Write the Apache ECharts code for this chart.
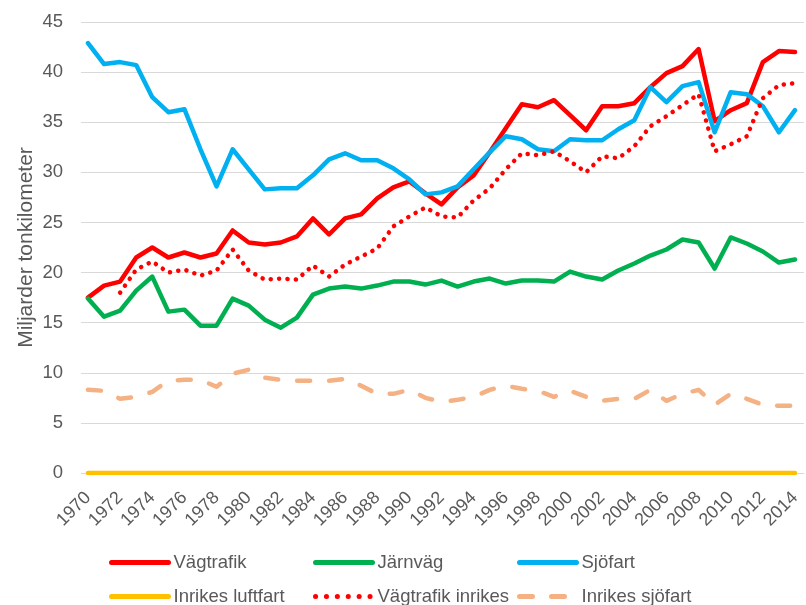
<!DOCTYPE html>
<html>
<head>
<meta charset="utf-8">
<script src="https://cdn.jsdelivr.net/npm/echarts@6/dist/echarts.min.js"></script>
<style>
  html, body { margin: 0; padding: 0; background: #fff; }
  #chart { width: 806px; height: 605px; }
</style>
</head>
<body>
<div id="chart"></div>
<script>
// år 1970-2014
const years = [];
for (let y = 1970; y <= 2014; y++) years.push(y);

// miljarder tonkilometer
const vagtrafik = [
  17.5, 18.7, 19.1, 21.5, 22.5, 21.5, 22.0, 21.5, 21.9, 24.2,
  23.0, 22.8, 23.0, 23.6, 25.4, 23.8, 25.4, 25.8, 27.4, 28.5,
  29.1, 27.9, 26.8, 28.5, 29.7, 32.0, 34.4, 36.8, 36.5, 37.2,
  35.7, 34.2, 36.6, 36.6, 36.9, 38.5, 39.9, 40.6, 42.3, 35.1,
  36.2, 36.9, 41.0, 42.1, 42.0
];
const jarnvag = [
  17.4, 15.6, 16.2, 18.2, 19.6, 16.1, 16.3, 14.7, 14.7, 17.4,
  16.7, 15.3, 14.5, 15.5, 17.8, 18.4, 18.6, 18.4, 18.7, 19.1,
  19.1, 18.8, 19.2, 18.6, 19.1, 19.4, 18.9, 19.2, 19.2, 19.1,
  20.1, 19.6, 19.3, 20.2, 20.9, 21.7, 22.3, 23.3, 23.0, 20.4,
  23.5, 22.9, 22.1, 21.0, 21.3
];
const sjofart = [
  42.9, 40.8, 41.0, 40.7, 37.5, 36.0, 36.3, 32.3, 28.6, 32.3,
  30.3, 28.3, 28.4, 28.4, 29.7, 31.3, 31.9, 31.2, 31.2, 30.4,
  29.3, 27.8, 28.0, 28.6, 30.3, 32.0, 33.6, 33.3, 32.3, 32.1,
  33.3, 33.2, 33.2, 34.3, 35.2, 38.5, 37.0, 38.6, 39.0, 34.0,
  38.0, 37.8, 36.6, 34.0, 36.2
];
const inrikesLuftfart = [
  0, 0, 0, 0, 0, 0, 0, 0, 0, 0,
  0, 0, 0, 0, 0, 0, 0, 0, 0, 0,
  0, 0, 0, 0, 0, 0, 0, 0, 0, 0,
  0, 0, 0, 0, 0, 0, 0, 0, 0, 0,
  0, 0, 0, 0, 0
];
const vagtrafikInrikes = [
  null, null, 18.0, 20.3, 21.1, 20.0, 20.3, 19.7, 20.2, 22.3,
  20.2, 19.3, 19.4, 19.3, 20.7, 19.6, 20.8, 21.6, 22.4, 24.6,
  25.6, 26.5, 25.6, 25.5, 27.2, 28.4, 30.3, 31.9, 31.7, 32.1,
  31.1, 30.0, 31.6, 31.4, 32.6, 34.6, 35.6, 36.7, 37.8, 32.1,
  32.8, 33.6, 37.4, 38.7, 38.9
];
const inrikesSjofart = [
  8.3, 8.2, 7.4, 7.6, 8.1, 9.2, 9.3, 9.3, 8.6, 9.9,
  10.3, 9.5, 9.3, 9.2, 9.2, 9.2, 9.4, 8.7, 7.9, 7.9,
  8.3, 7.5, 7.1, 7.3, 7.6, 8.3, 8.7, 8.4, 8.2, 7.6,
  8.2, 7.6, 7.2, 7.4, 7.4, 8.3, 7.2, 7.9, 8.3, 6.8,
  7.9, 7.4, 6.8, 6.7, 6.7
];

const textColor = '#595959';
const font = '"Liberation Sans", Arial, sans-serif';

const chart = echarts.init(document.getElementById('chart'));

function line(name, values, color, type, width) {
  return {
    name: name,
    type: 'line',
    data: years.map((y, i) => [y, values[i]]),
    symbol: 'none',
    connectNulls: false,
    animation: false,
    lineStyle: { color: color, width: width || 4.5, type: type || 'solid', cap: 'round', join: 'round' },
    itemStyle: { color: color }
  };
}

function legendAt(name, left, top, lineType) {
  const lineStyle = { width: 5 };
  if (lineType) lineStyle.type = lineType;
  return {
    data: [name],
    left: left,
    top: top,
    itemWidth: 57,
    itemHeight: 14,
    padding: 0,
    selectedMode: false,
    itemStyle: { opacity: 0 },
    lineStyle: lineStyle,
    textStyle: { color: textColor, fontSize: 18.5, fontFamily: font }
  };
}

const option = {
  animation: false,
  grid: { left: 88, right: 2, top: 22, bottom: 132 },
  legend: [
    legendAt('Vägtrafik', 109, 553),
    legendAt('Järnväg', 313, 553),
    legendAt('Sjöfart', 517, 553),
    legendAt('Inrikes luftfart', 109, 587),
    legendAt('Vägtrafik inrikes', 313, 587, [0.1, 10.8]),
    legendAt('Inrikes sjöfart', 517, 587)
  ],
  xAxis: {
    type: 'value',
    min: 1970,
    max: 2014.56,
    interval: 2,
    splitLine: { show: false },
    axisLine: { show: true, lineStyle: { color: '#D9D9D9' } },
    axisTick: { show: false },
    axisLabel: {
      rotate: 45,
      margin: 22,
      showMaxLabel: false,
      color: textColor,
      fontSize: 18,
      fontFamily: font,
      formatter: v => (Number.isInteger(v) ? String(v) : '')
    }
  },
  yAxis: {
    type: 'value',
    min: 0,
    max: 45,
    interval: 5,
    name: 'Miljarder tonkilometer',
    nameLocation: 'middle',
    nameGap: 51,
    nameMoveOverlap: false,
    nameTextStyle: { color: textColor, fontSize: 21, fontFamily: font },
    axisLine: { show: false },
    axisTick: { show: true, length: 7, lineStyle: { color: '#D9D9D9' } },
    splitLine: { lineStyle: { color: '#D9D9D9', width: 1 } },
    axisLabel: { color: textColor, fontSize: 18.5, fontFamily: font, margin: 25 }
  },
  series: [
    line('Vägtrafik', vagtrafik, '#FF0000'),
    line('Järnväg', jarnvag, '#00B050'),
    line('Sjöfart', sjofart, '#00B0F0'),
    line('Inrikes luftfart', inrikesLuftfart, '#FFC000'),
    line('Vägtrafik inrikes', vagtrafikInrikes, '#FF0000', [0.1, 8.3], 4.5),
    line('Inrikes sjöfart', inrikesSjofart, '#F4B183', [13, 19], 4.5)
  ]
};

chart.setOption(option);
</script>
</body>
</html>
